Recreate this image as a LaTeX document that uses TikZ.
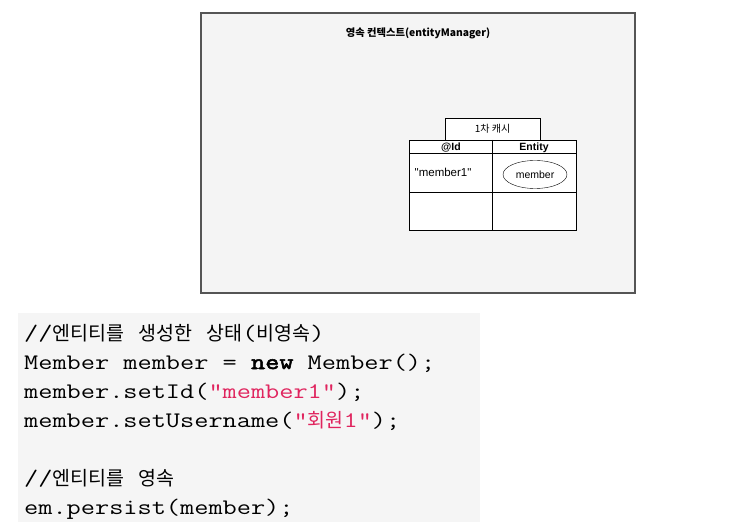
\documentclass[tikz,border=0pt]{standalone}
\usepackage{fontspec}
\setmainfont{Liberation Sans}
\newfontfamily\kr{Noto Sans CJK KR}
\newfontfamily\codefont{Latin Modern Mono}[FakeStretch=1.24]
\newfontfamily\codebold{Latin Modern Mono}[FakeStretch=1.24, FakeBold=2.5]
\usetikzlibrary{shapes.geometric}
\definecolor{strred}{HTML}{E0245E}
\definecolor{ctxgray}{HTML}{F4F4F4}
\definecolor{codegray}{HTML}{F5F5F5}
\definecolor{edgegray}{HTML}{555555}
\newcommand{\hg}[1]{{\kr\fontsize{19.5}{29}\selectfont #1}}
\newcommand{\str}[1]{\textcolor{strred}{#1}}
\newcommand{\kw}[1]{{\codebold #1}}

\begin{document}
\begin{tikzpicture}[x=1pt,y=-1pt,
  label/.style={inner sep=0pt, font=\kr\fontsize{10}{12}\selectfont},
  head/.style={inner sep=0pt, font=\fontsize{10.5}{12}\selectfont\bfseries},
  codeline/.style={anchor=base west, inner sep=0pt, font=\codefont\fontsize{22.2}{29}\selectfont}]

\useasboundingbox (0,0) rectangle (730,529);

% The persistence context
\draw[edgegray, line width=1.3pt, fill=ctxgray] (201,13) rectangle (635,293);
\node[label, font=\kr\bfseries\fontsize{10.3}{12}\selectfont, anchor=base] (ctx) at (418,36.5) {영속 컨텍스트(entityManager)};

% The first level cache
\draw[fill=white] (445,118) rectangle (540,140);
\node[label, anchor=base] (cache) at (492.5,133) {1차 캐시};

% The table
\draw[fill=white] (409,140) rectangle (576,230);
\draw (409,153) -- (576,153);
\draw (409,192) -- (576,192);
\draw (492,140) -- (492,230);
\node[head, anchor=base] (idhead) at (451,151) {@Id};
\node[head, anchor=base] (enthead) at (534,151) {Entity};
\node[label, font=\fontsize{11.5}{13}\selectfont, anchor=base west] (key) at (414.5,176.5) {\textquotedbl member1\textquotedbl};
\node[draw, ellipse, minimum width=64, minimum height=28, inner sep=0pt,
  font=\fontsize{10.5}{12}\selectfont] (val) at (535,174.5) {member};

% The code
\fill[codegray] (18,313) rectangle (480,522);
\node[codeline] (c1) at (24,340) {//\hg{엔티티를} \hg{생성한} \hg{상태}(\hg{비영속})};
\node[codeline] (c2) at (24,369) {Member member = \kw{new} Member();};
\node[codeline] (c3) at (24,398) {member.setId(\str{"member1"});};
\node[codeline] (c4) at (24,427) {member.setUsername(\str{"\hg{회원}1"});};
\node[codeline] (c5) at (24,485) {//\hg{엔티티를} \hg{영속}};
\node[codeline] (c6) at (24,514) {em.persist(member);};

\end{tikzpicture}
\end{document}
